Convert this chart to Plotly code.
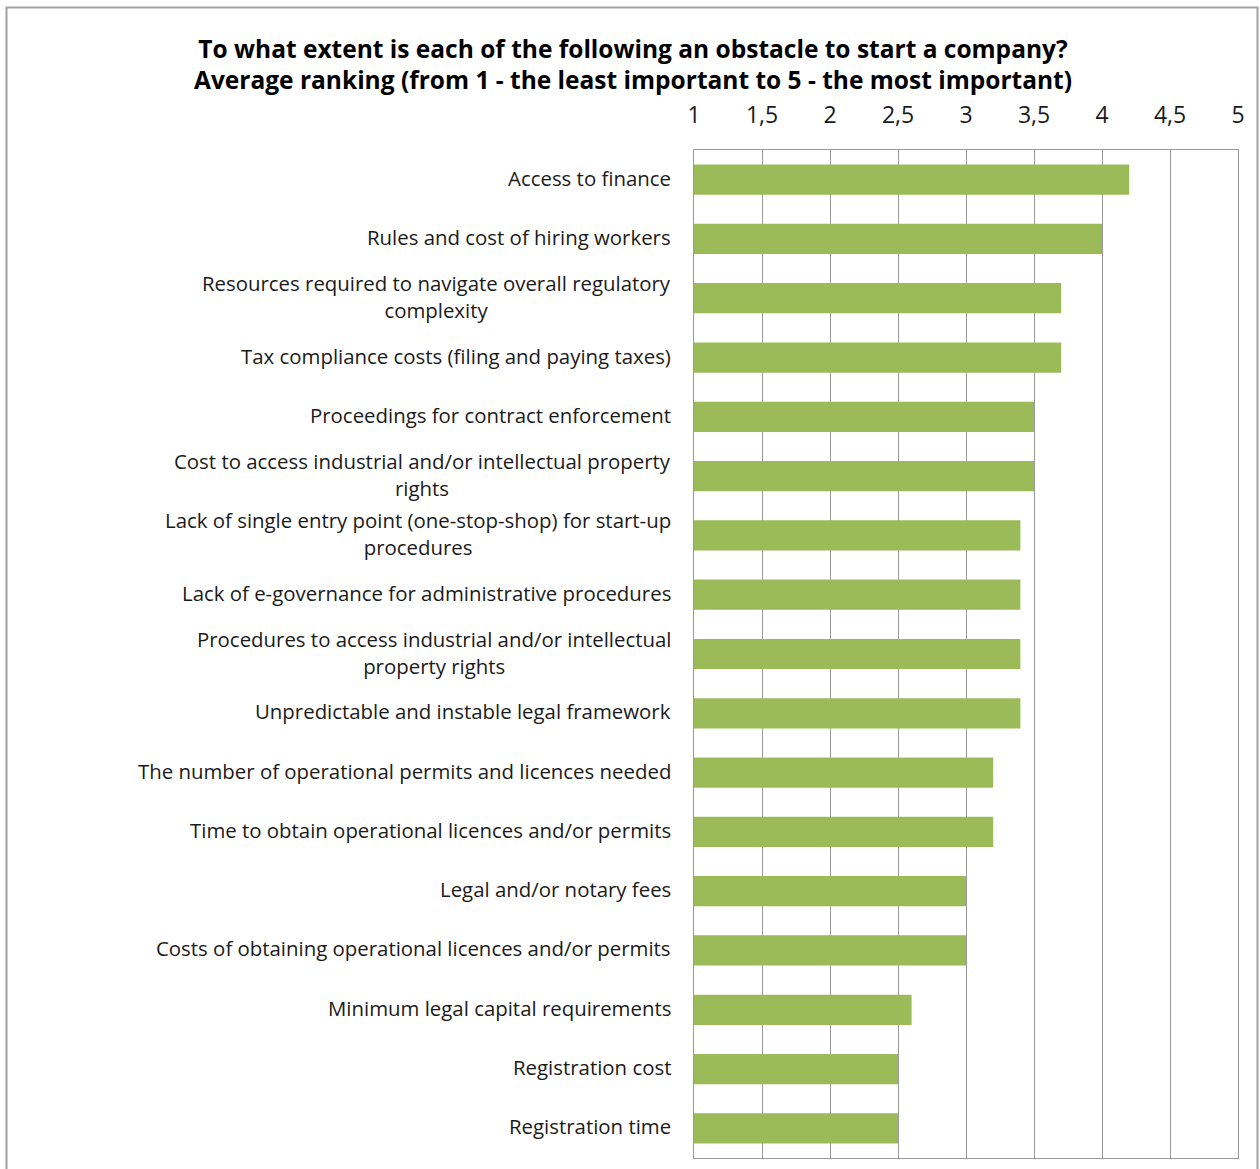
import plotly.graph_objects as go

categories = [
    "Access to finance",
    "Rules and cost of hiring workers",
    "Resources required to navigate overall regulatory<br>complexity",
    "Tax compliance costs (filing and paying taxes)",
    "Proceedings for contract enforcement",
    "Cost to access industrial and/or intellectual property<br>rights",
    "Lack of single entry point (one-stop-shop) for start-up<br>procedures",
    "Lack of e-governance for administrative procedures",
    "Procedures to access industrial and/or intellectual<br>property rights",
    "Unpredictable and instable legal framework",
    "The number of operational permits and licences needed",
    "Time to obtain operational licences and/or permits",
    "Legal and/or notary fees",
    "Costs of obtaining operational licences and/or permits",
    "Minimum legal capital requirements",
    "Registration cost",
    "Registration time",
]
values = [4.2, 4.0, 3.7, 3.7, 3.5, 3.5, 3.4, 3.4, 3.4, 3.4, 3.2, 3.2, 3.0, 3.0, 2.6, 2.5, 2.5]
tick_vals = [1, 1.5, 2, 2.5, 3, 3.5, 4, 4.5, 5]
tick_text = ["1", "1,5", "2", "2,5", "3", "3,5", "4", "4,5", "5"]
title_text = ("To what extent is each of the following an obstacle to start a company?<br>"
              "Average ranking (from 1 - the least important to 5 - the most important)")

FONT = "Open Sans"
fig = go.Figure()
fig.add_trace(go.Bar(
    x=[v - 1 for v in values], base=1, y=categories, orientation="h",
    marker=dict(color="#9BBB59", line=dict(width=0)),
    hoverinfo="skip",
))

for c in categories:
    fig.add_annotation(x=0, xref="paper", y=c, yref="y", text=c,
                       xanchor="right", align="center", xshift=-21, yshift=2,
                       showarrow=False, font=dict(family=FONT, size=20.4, color="#1a1a1a"))

fig.add_shape(type="rect", xref="paper", yref="paper",
              x0=-694/544 + 6.5/544, x1=(1257.5-694)/544,
              y0=-0.1, y1=(1158-7.5)/1008,
              line=dict(color="#a0a0a0", width=2), fillcolor="rgba(0,0,0,0)", layer="below")

fig.update_layout(
    width=1260, height=1169,
    margin=dict(l=694, r=22, t=150, b=11),
    paper_bgcolor="white", plot_bgcolor="white",
    showlegend=False, bargap=0.49,
    title=dict(text=title_text, x=633/1260, xanchor="center", y=1-57.5/1169, yanchor="middle",
               font=dict(family=FONT, size=24.5, color="black", weight="bold")),
    xaxis=dict(range=[1, 5], side="top", tickvals=tick_vals, ticktext=tick_text,
               showgrid=True, gridcolor="#9a9a9a", gridwidth=1,
               showline=True, linecolor="#9a9a9a", linewidth=1, mirror=True,
               ticks="", ticklabelstandoff=17, zeroline=False,
               tickfont=dict(family=FONT, size=23, color="#1a1a1a")),
    yaxis=dict(categoryorder="array", categoryarray=categories, autorange="reversed",
               showticklabels=False, showgrid=False, ticks="",
               showline=True, linecolor="#9a9a9a", linewidth=1, mirror=True),
)
fig.write_html("out.html")
